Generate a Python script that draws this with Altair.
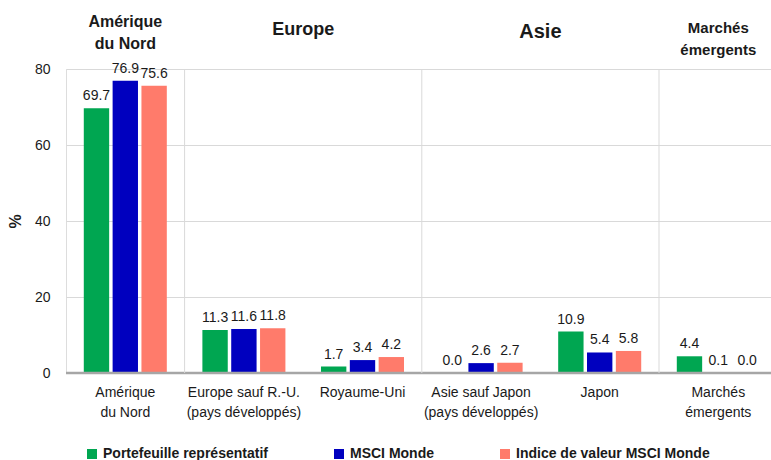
import altair as alt
import pandas as pd

# ---- data ----
categories = [
    "Amérique\ndu Nord",
    "Europe sauf R.-U.\n(pays développés)",
    "Royaume-Uni",
    "Asie sauf Japon\n(pays développés)",
    "Japon",
    "Marchés\némergents",
]
series = ["Portefeuille représentatif", "MSCI Monde", "Indice de valeur MSCI Monde"]
portefeuille = [69.7, 11.3, 1.7, 0.0, 10.9, 4.4]
msci_monde = [76.9, 11.6, 3.4, 2.6, 5.4, 0.1]
msci_valeur = [75.6, 11.8, 4.2, 2.7, 5.8, 0.0]
colors = ["#00A651", "#0000BF", "#FF7B6B"]

regions = ["Amérique\ndu Nord", "Europe", "Asie", "Marchés\némergents"]
region_start = [0, 1, 3, 5]   # first category index of each region
region_end = [1, 3, 5, 6]     # one past last category index
y_ticks = [0, 20, 40, 60, 80]

# ---- tables ----
rows = []
for s, vals in zip(series, [portefeuille, msci_monde, msci_valeur]):
    for c, v in zip(categories, vals):
        rows.append({"cat": c, "series": s, "value": v})
df = pd.DataFrame(rows)

reg_df = pd.DataFrame({
    "region": regions,
    "mid": [(a + b) / 2 for a, b in zip(region_start, region_end)],
})
sep_df = pd.DataFrame({"b": region_end[:-1], "y0": [0] * 3, "y1": [80] * 3})

FONT = "Liberation Sans"
TXT = "#1a1a1a"
PW = 711.6  # band range (plot continues slightly past window edge)

xscale = alt.Scale(range=[0, PW], paddingInner=0.3, paddingOuter=0.15)
yscale = alt.Scale(domain=[0, 80], nice=False)

x_axis = alt.Axis(labelExpr="split(datum.label, '\\n')", labelFontSize=14,
                  labelPadding=12, labelLineHeight=20, labelAngle=0,
                  domain=False, ticks=False, labelColor=TXT, labelFont=FONT)
xoff = alt.XOffset("series:N", sort=series, scale=alt.Scale(paddingInner=0.12))

bars = alt.Chart(df).mark_bar().encode(
    x=alt.X("cat:N", sort=categories, scale=xscale, title=None, axis=x_axis),
    xOffset=xoff,
    y=alt.Y("value:Q", scale=yscale, title="%",
            axis=alt.Axis(values=y_ticks, grid=True, gridColor="#D9D9D9",
                          domain=False, ticks=False, labelPadding=16,
                          labelFontSize=14, labelColor=TXT, labelFont=FONT,
                          titleFontSize=16, titleFontWeight="bold",
                          titleColor=TXT, titlePadding=11, titleFont=FONT)),
    color=alt.Color("series:N", sort=series,
                    scale=alt.Scale(domain=series, range=colors),
                    legend=alt.Legend(title=None, orient="none", legendX=19, legendY=378,
                                      direction="horizontal", symbolType="square",
                                      symbolSize=100, symbolStrokeWidth=0,
                                      labelFontSize=14, labelFontWeight="bold",
                                      labelFont=FONT, labelColor=TXT, labelLimit=400,
                                      columnPadding=64, labelOffset=4)),
)

labels = alt.Chart(df).mark_text(baseline="alphabetic", dy=-8, fontSize=14,
                                 font=FONT, color=TXT).encode(
    x=alt.X("cat:N", sort=categories, scale=xscale, title=None, axis=x_axis),
    xOffset=xoff,
    y=alt.Y("value:Q", scale=yscale),
    text=alt.Text("value:Q", format=".1f"),
)

zero = alt.Chart(pd.DataFrame({"z": [0]})).mark_rule(
    color="#A6A6A6", strokeWidth=2.5).encode(y=alt.Y("z:Q", scale=yscale))

qx = alt.Scale(domain=[0, 6], range=[0, PW], nice=False, zero=False)

seps = alt.Chart(sep_df).mark_rule(color="#D9D9D9", strokeWidth=1).encode(
    x=alt.X("b:Q", scale=qx, axis=None),
    y=alt.Y("y0:Q", scale=yscale),
    y2="y1:Q",
)

header_styles = [
    {"size": 16, "y": -47},
    {"size": 18, "y": -39},
    {"size": 20, "y": -37},
    {"size": 15, "y": -41},
]
headers = []
for i, st in enumerate(header_styles):
    headers.append(
        alt.Chart(reg_df.iloc[[i]]).mark_text(
            fontSize=st["size"], fontWeight="bold", font=FONT, color=TXT,
            lineBreak="\n", lineHeight=22, baseline="middle", align="center",
        ).encode(
            x=alt.X("mid:Q", scale=qx, axis=None),
            y=alt.value(st["y"]),
            text="region:N",
        )
    )

main = alt.layer(bars, labels, zero)
overlay = alt.layer(seps, *headers)

chart = alt.layer(main, overlay).resolve_scale(x="independent").properties(
    width=705, height=304,
    autosize=alt.AutoSizeParams(type="none"),
    padding={"left": 66, "top": 69, "right": 0, "bottom": 87},
).configure_view(stroke=None).configure(font=FONT)

chart.save("out.html", embed_options={"renderer": "svg", "actions": False})
